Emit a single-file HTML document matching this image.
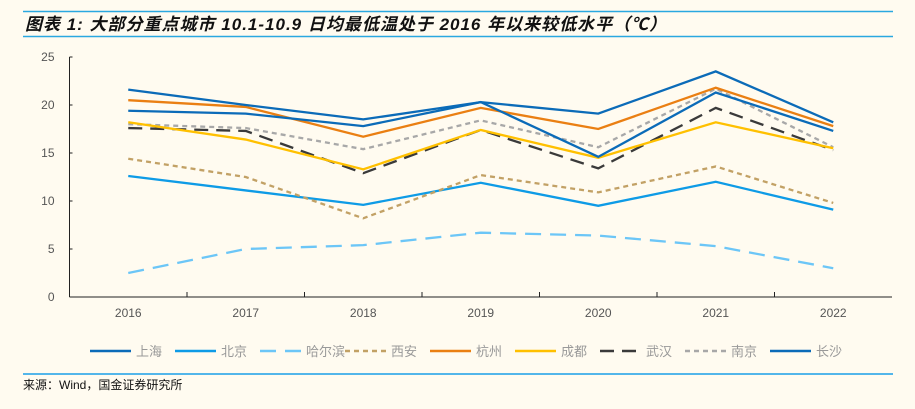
<!DOCTYPE html>
<html><head><meta charset="utf-8"><style>
body{margin:0;background:#fffbf0;width:915px;height:404px;overflow:hidden;font-family:"Liberation Sans","Noto Sans CJK SC",sans-serif}
</style></head><body>
<svg width="915" height="404" xmlns="http://www.w3.org/2000/svg">
<rect width="915" height="404" fill="#fffbf0"/>
<line x1="23" y1="11.5" x2="893" y2="11.5" stroke="#2aa8e0" stroke-width="1.5"/>
<text x="25" y="30" font-size="17" letter-spacing="1" font-weight="bold" font-style="italic" fill="#111" font-family="'Liberation Sans','Noto Sans CJK SC',sans-serif">图表 1:  大部分重点城市 10.1-10.9 日均最低温处于 2016 年以来较低水平（℃）</text>
<line x1="23" y1="36.5" x2="893" y2="36.5" stroke="#2aa8e0" stroke-width="1.5"/>
<g id="axes"></g>
<g id="series"></g>
<g id="legend"></g>
<line x1="23" y1="374" x2="893" y2="374" stroke="#1aa0e8" stroke-width="1.5"/>
<text x="23" y="389" font-size="12" fill="#111">来源：Wind，国金证券研究所</text>
</svg>
<script>
const categories=["2016","2017","2018","2019","2020","2021","2022"];
const yTicks=[0,5,10,15,20,25];
const seriesNames=["上海","北京","哈尔滨","西安","杭州","成都","武汉","南京","长沙"];
const shanghai=[21.6,20.0,18.5,20.3,19.1,23.5,18.2];
const beijing=[12.6,11.1,9.6,11.9,9.5,12.0,9.1];
const harbin=[2.5,5.0,5.4,6.7,6.4,5.3,3.0];
const xian=[14.4,12.5,8.2,12.7,10.9,13.6,9.8];
const hangzhou=[20.5,19.8,16.7,19.7,17.5,21.8,17.8];
const chengdu=[18.2,16.4,13.3,17.4,14.5,18.2,15.5];
const wuhan=[17.6,17.3,12.9,17.4,13.4,19.7,15.3];
const nanjing=[18.0,17.6,15.4,18.4,15.6,21.7,15.6];
const changsha=[19.4,19.1,17.8,20.3,14.6,21.3,17.3];
const NS="http://www.w3.org/2000/svg";
const L=69.5,R=892,T=57,B=297;
const step=(R-L)/categories.length;
const xS=i=>L+step*(i+0.5);
const yS=v=>B-(v/25)*(B-T);
function mk(tag,attrs,parent){const e=document.createElementNS(NS,tag);for(const k in attrs)e.setAttribute(k,attrs[k]);parent.appendChild(e);return e;}
const ax=document.getElementById('axes');
let e=mk('line',{x1:L,y1:T,x2:L,y2:B,stroke:'#222','stroke-width':1},ax);


e=mk('line',{x1:L,y1:B,x2:R,y2:B,stroke:'#222','stroke-width':1},ax);


yTicks.forEach(v=>{
 mk('line',{x1:L,y1:yS(v),x2:L+3,y2:yS(v),stroke:'#222'},ax);
 const t=mk('text',{x:L-15,y:yS(v)+4,'font-size':12,fill:'#555','text-anchor':'end'},ax);t.textContent=v;
 
 
});
categories.forEach((c,i)=>{
 if(i>0)mk('line',{x1:L+step*i,y1:B,x2:L+step*i,y2:B-5,stroke:'#222'},ax);
 const t=mk('text',{x:xS(i),y:B+20,'font-size':12,fill:'#555','text-anchor':'middle'},ax);t.textContent=c;
 
 
});
const styles=[
 {d:harbin,c:'#6cc6f7',dash:'16,9',n:'series-harbin'},
 {d:beijing,c:'#0e9be6',dash:'',n:'series-beijing'},
 {d:xian,c:'#c2a165',dash:'5,4',n:'series-xian'},
 {d:wuhan,c:'#3a3a3a',dash:'14,8',n:'series-wuhan'},
 {d:nanjing,c:'#a8a8a8',dash:'5,4',n:'series-nanjing'},
 {d:chengdu,c:'#ffc000',dash:'',n:'series-chengdu'},
 {d:hangzhou,c:'#ea7f12',dash:'',n:'series-hangzhou'},
 {d:changsha,c:'#0b6bb8',dash:'',n:'series-changsha'},
 {d:shanghai,c:'#0b6bb8',dash:'',n:'series-shanghai'}];
const sg=document.getElementById('series');
styles.forEach(s=>{
 const p=mk('polyline',{points:s.d.map((v,i)=>xS(i)+','+yS(v)).join(' '),fill:'none',stroke:s.c,'stroke-width':2.3,'stroke-dasharray':s.dash},sg);
 
 
});
const legStyles=[['#0b6bb8',''],['#0e9be6',''],['#6cc6f7','16,9'],['#c2a165','5,4'],['#ea7f12',''],['#ffc000',''],['#3a3a3a','14,8'],['#a8a8a8','5,4'],['#0b6bb8','']];
const lg=document.getElementById('legend');
seriesNames.forEach((n,i)=>{
 const x=90+85*i;
 const g=mk('g',{},lg);
 
 
 mk('line',{x1:x,y1:351,x2:x+41,y2:351,stroke:legStyles[i][0],'stroke-width':2.5,'stroke-dasharray':legStyles[i][1]},g);
 const t=mk('text',{x:x+46,y:356,'font-size':13,fill:'#999'},g);t.textContent=n;
});
</script>
</body></html>
